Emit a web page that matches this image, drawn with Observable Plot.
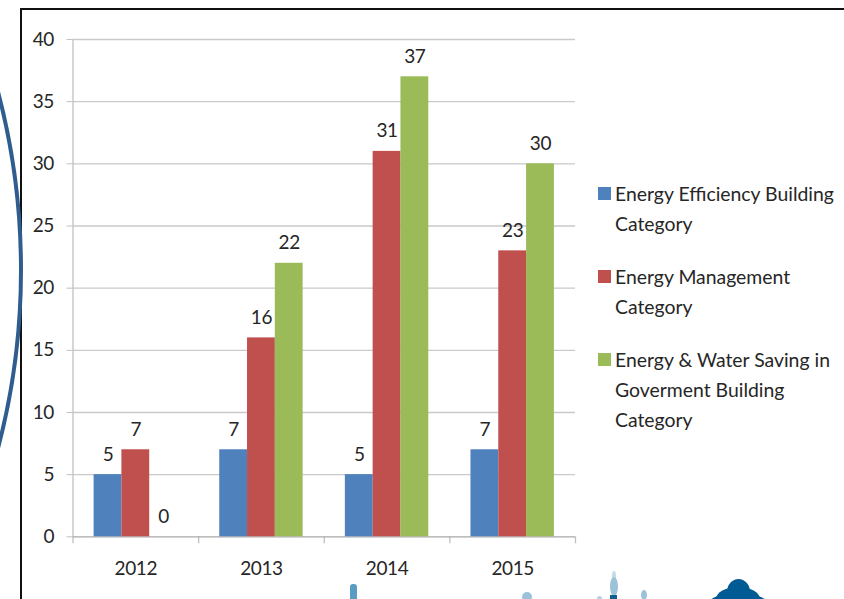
<!DOCTYPE html>
<html>
<head>
<meta charset="utf-8">
<script src="https://cdn.jsdelivr.net/npm/d3@7"></script>
<script src="https://cdn.jsdelivr.net/npm/@observablehq/plot@0.6"></script>
<style>
html,body{margin:0;padding:0;background:#fff;overflow:hidden}
#page{position:relative;width:844px;height:599px;overflow:hidden;font-family:Lato,sans-serif;color:#262626}
#panel{position:absolute;left:20px;top:8px;width:840px;height:610px;box-sizing:border-box;background:#fff;border:2px solid #111}
#arc{position:absolute;left:-1379px;top:-431px;width:1402px;height:1402px;box-sizing:border-box;border:4.5px solid #2f5d8f;border-radius:50%}
#chart{position:absolute;left:0;top:0}
#legend div{position:absolute;left:615px;font-size:19.4px;line-height:30px;white-space:nowrap}
#legend i{position:absolute;left:-17px;top:8px;width:13px;height:13px}
.deco{position:absolute;border-radius:50%}
</style>
</head>
<body>
<div id="page">
  <div id="panel"></div>
  <div id="arc"></div>
  <!-- skyline fragments along the bottom edge of the slide -->
  <div class="deco" style="left:350px;top:584px;width:7px;height:16px;background:#5b9cc4;border-radius:3px 3px 0 0"></div>
  <div class="deco" style="left:522px;top:592px;width:10px;height:10px;background:#9cc2da"></div>
  <div class="deco" style="left:612px;top:571px;width:4px;height:10px;background:#c4dae8"></div>
  <div class="deco" style="left:610px;top:577px;width:8px;height:19px;background:#9cc2da"></div>
  <div class="deco" style="left:610px;top:595px;width:7px;height:5px;background:#0f5f92;border-radius:0"></div>
  <div class="deco" style="left:597px;top:596px;width:5px;height:5px;background:#b5d1e3"></div>
  <div class="deco" style="left:641px;top:590px;width:6px;height:10px;background:#9cc2da"></div>
  <div class="deco" style="left:709px;top:593px;width:58px;height:20px;background:#005b94"></div>
  <div class="deco" style="left:716px;top:587px;width:44px;height:24px;background:#005b94"></div>
  <div class="deco" style="left:727px;top:579px;width:23px;height:26px;background:#005b94"></div>
  <div id="chart"></div>
  <div id="legend"></div>
</div>
<script>
const years = ["2012","2013","2014","2015"];
const seriesNames = ["Energy Efficiency Building\nCategory","Energy Management\nCategory","Energy & Water Saving in\nGoverment Building\nCategory"];
const seriesColors = ["#4f81bd","#c0504d","#9bbb59"];
const efficiency = [5,7,5,7];
const management = [7,16,31,23];
const saving = [0,22,37,30];
const yTicks = [0,5,10,15,20,25,30,35,40];
const legendTops = [179,262,345];

const allSeries = [efficiency,management,saving];
const band = 125.6;
const barStep = 27.8;
const inset = (band-barStep)/2;
const textColor = "#262626";
const axisColor = "#c0c0c0";

const barMarks = allSeries.flatMap((vals,k)=>{
  const rows = years.map((y,i)=>({year:y,value:vals[i]}));
  const dx = (k-1)*barStep;
  return [
    Plot.barY(rows,{x:"year",y:"value",fill:seriesColors[k],insetLeft:inset,insetRight:inset,dx}),
    Plot.text(rows,{x:"year",y:"value",text:d=>String(d.value),dx,dy:-20,fontSize:19,fill:textColor})
  ];
});

const chart = Plot.plot({
  width:844,height:599,
  marginLeft:72.5,marginRight:269,marginTop:39,marginBottom:62.7,
  style:{background:"transparent",fontFamily:"Lato,sans-serif",letterSpacing:"-0.4px"},
  x:{type:"band",domain:years,padding:0,round:false},
  y:{domain:[0,40],nice:false},
  marks:[
    Plot.ruleY(yTicks.slice(1),{stroke:"#c9c9c9",strokeWidth:1.3}),
    Plot.ruleX(["2012"],{x:d=>d,y1:40,y2:0,dx:-band/2,stroke:axisColor,strokeWidth:1.3}),
    Plot.ruleX(years,{x:d=>d,y1:0,y2:-0.56,dx:-band/2,stroke:axisColor,strokeWidth:1.3}),
    Plot.ruleX(["2015"],{x:d=>d,y1:0,y2:-0.56,dx:band/2,stroke:axisColor,strokeWidth:1.3}),
    Plot.ruleY([0],{stroke:"#a8a8a8",strokeWidth:1.3}),
    Plot.axisY({ticks:yTicks,tickSize:6,tickPadding:13,stroke:axisColor,fill:textColor,fontSize:19,label:null}),
    Plot.axisX({tickSize:0,tickPadding:25,fontSize:19,fill:textColor,label:null}),
    ...barMarks
  ]
});
document.getElementById("chart").append(chart);

const legend = document.getElementById("legend");
seriesNames.forEach((name,k)=>{
  const row = document.createElement("div");
  row.style.top = legendTops[k]+"px";
  const sw = document.createElement("i");
  sw.style.background = seriesColors[k];
  row.append(sw);
  name.split("\n").forEach((line,j)=>{
    if(j) row.append(document.createElement("br"));
    row.append(document.createTextNode(line));
  });
  legend.append(row);
});
</script>
</body>
</html>
